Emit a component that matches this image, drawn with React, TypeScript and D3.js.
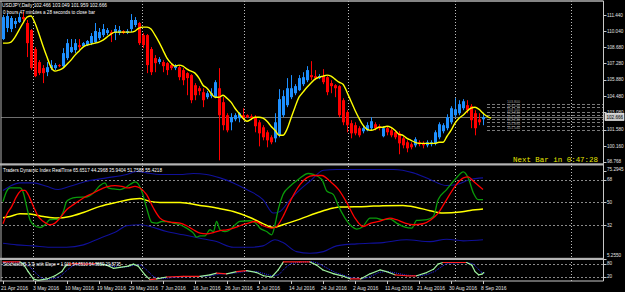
import React from 'react';
import * as d3 from 'd3';

const dateLabels = ["21 Apr 2016","3 May 2016","10 May 2016","19 May 2016","29 May 2016","7 Jun 2016","16 Jun 2016","26 Jun 2016","5 Jul 2016","14 Jul 2016","24 Jul 2016","2 Aug 2016","11 Aug 2016","21 Aug 2016","30 Aug 2016","8 Sep 2016"];

const openP = [109.37,110.32,110.23,110.66,110.83,111.26,110.75,110.14,108.51,107.39,106.87,106.52,106.87,106.87,107.13,107.04,107.73,108.25,108.42,108.85,108.77,108.85,109.02,109.11,109.45,109.71,109.89,109.97,109.89,109.89,110.06,109.89,110.23,110.58,110.75,109.71,109.71,108.51,107.73,107.39,107.39,107.30,107.13,106.87,106.95,106.70,106.44,106.27,105.40,105.14,104.80,104.37,104.46,104.37,105.14,103.94,102.82,102.21,102.47,102.56,102.82,102.82,102.73,102.65,102.21,101.78,101.35,100.92,100.83,101.09,102.82,103.68,104.37,104.71,104.97,105.49,105.83,106.27,106.18,106.01,106.18,106.09,105.58,105.40,105.32,104.11,103.08,102.13,101.96,101.70,101.44,101.52,101.70,102.04,101.87,101.01,101.70,101.52,101.35,101.26,100.83,100.49,100.32,100.23,100.49,100.40,100.23,100.32,100.40,100.92,101.44,101.70,102.21,102.82,102.99,103.42,103.68,103.59,102.99,102.47,102.466];
const highP = [111.44,111.61,111.35,111.18,111.61,111.70,111.01,110.23,108.68,107.56,107.13,107.39,107.56,107.30,107.21,108.59,109.37,109.37,109.37,109.37,109.11,109.28,109.89,110.75,110.32,110.66,110.32,110.14,110.58,110.49,110.14,110.23,111.52,111.26,110.83,109.89,109.80,108.68,107.99,107.82,107.56,107.39,107.30,107.21,107.13,106.87,106.52,106.35,105.58,105.32,105.14,104.89,105.14,105.83,106.87,104.37,102.99,102.99,102.99,103.08,103.42,102.90,102.90,102.82,102.39,101.96,101.52,101.09,102.99,105.06,104.97,106.01,106.27,105.49,106.27,106.52,107.04,107.47,106.70,106.35,106.78,106.18,105.83,105.49,105.40,104.28,103.25,102.39,102.21,101.87,101.96,102.21,102.65,102.21,102.04,101.87,101.87,101.70,101.52,101.44,101.01,100.66,100.49,100.92,100.66,100.57,100.66,100.66,101.52,102.21,102.13,102.90,103.59,104.28,104.11,104.20,104.11,103.77,103.25,102.99,103.049];
const lowP = [109.28,109.97,109.97,110.32,110.75,110.92,107.82,106.70,106.09,106.27,105.58,106.18,106.70,106.70,106.95,106.95,107.56,108.16,108.16,108.42,108.68,108.77,108.85,109.02,109.28,109.54,109.71,109.11,109.28,109.71,109.80,109.80,109.97,110.40,108.85,108.59,106.44,106.27,106.52,107.21,106.52,106.27,106.70,106.70,105.83,105.40,104.54,103.85,104.11,104.54,103.51,104.20,104.28,104.28,98.94,101.52,101.35,101.52,102.30,102.21,102.39,102.56,102.39,101.35,100.14,100.66,100.06,100.32,100.49,100.92,102.65,103.51,104.20,104.54,104.89,105.32,105.66,105.83,105.83,105.92,105.49,104.54,104.71,104.37,102.65,101.96,101.35,100.83,101.09,100.92,101.26,101.44,101.52,101.52,101.52,100.92,101.09,100.92,100.75,99.46,99.97,99.63,99.88,100.06,100.14,99.97,100.06,100.14,100.23,100.75,101.26,101.52,102.04,102.65,102.82,103.25,102.99,101.70,101.09,101.96,101.959];
const closeP = [111.26,111.35,111.18,110.92,111.26,111.09,109.02,106.87,106.18,106.44,106.44,106.95,107.13,107.13,107.04,108.16,109.02,108.68,109.02,108.68,109.02,109.20,109.63,110.06,109.97,110.23,110.14,109.80,110.23,110.14,109.89,110.06,111.01,111.01,109.02,108.85,107.13,106.52,107.30,107.64,107.04,106.70,106.87,107.04,106.09,105.83,106.01,104.11,104.54,104.89,104.11,104.71,104.71,105.66,102.82,101.96,101.52,102.65,102.82,102.99,102.56,102.65,102.56,101.87,101.26,100.92,100.66,100.49,102.21,104.20,104.46,105.14,105.14,105.32,106.01,106.09,106.70,106.09,106.01,106.18,105.66,104.80,105.32,105.14,102.82,102.21,101.96,101.26,101.26,101.09,101.70,101.96,102.30,101.70,101.70,101.70,101.35,101.09,100.92,100.40,100.23,99.97,100.06,100.75,100.32,100.23,100.49,100.49,101.35,102.04,101.96,102.65,103.42,103.33,103.77,104.02,103.25,102.39,101.70,102.21,102.666];

const maLine = [109.02,109.02,109.11,109.54,110.14,110.75,111.26,111.35,110.75,109.80,108.77,107.82,106.95,106.61,106.70,106.87,107.21,107.56,107.99,108.33,108.68,108.85,108.94,109.02,109.11,109.28,109.54,109.80,109.97,109.97,109.97,109.97,109.97,110.06,110.32,110.40,110.40,110.23,109.71,109.11,108.42,107.73,107.30,107.04,107.13,107.04,106.78,106.61,106.44,106.01,105.40,105.14,104.71,104.37,104.37,104.54,104.28,103.94,103.42,102.99,102.56,102.30,102.47,102.65,102.65,102.56,102.30,101.87,101.52,101.09,101.09,101.61,102.56,103.51,104.37,104.80,105.23,105.58,105.92,106.09,106.18,106.27,106.18,105.92,105.66,105.49,104.80,104.02,103.25,102.56,101.96,101.61,101.52,101.61,101.78,101.78,101.87,101.78,101.52,101.18,101.09,100.83,100.66,100.49,100.40,100.40,100.40,100.40,100.40,100.49,100.49,101.01,101.52,102.13,102.56,102.82,103.16,103.42,103.51,103.33,102.99,102.73,102.56];

const priceTicks = [111.44,110.04,108.68,107.28,105.88,104.48,103.08,101.58,100.16,98.768];
const priceTickLabels = ["111.440","110.040","108.680","107.280","105.880","104.480","103.080","101.580","100.160","98.768"];
const currentPrice = 102.666;
const levelLines = [103.80,103.50,103.10,102.84,102.52,102.23,101.89,101.54];
const monthSeparators = [7.5,34.7,60.3,86.3,113,142];

const tdiTicks = [75.2945,68,50,32,5.255];
const tdiTickLabels = ["75.2945","68","50","32","5.2550"];
const tdiLevels = [68,50,32];
const stochTicks = [80,20];

const tdiGreen = [[0,50.6],[0.9,58.8],[1.75,61.5],[4.25,61.5],[5.1,57.5],[5.9,46.8],[6.75,36.2],[7.6,32.2],[9.25,30],[10.5,32.2],[11.75,36.2],[13.8,36.7],[15.1,42.8],[15.9,50.8],[16.75,52.7],[18.4,54],[20.9,54.3],[22.6,57.5],[24.25,63.4],[25.5,65.5],[26.3,61.5],[27.6,60.7],[29.25,60.2],[30.5,61.5],[31.75,64.2],[33,66.3],[33.6,65.5],[34.7,58.8],[35.9,45.5],[37.2,34],[38.4,33.5],[39.7,34.8],[40.9,34.8],[42.6,33.5],[44.25,32.2],[45.9,29.5],[47.6,25.5],[48.4,22.3],[49.25,23.4],[50.5,23.4],[51.75,28.2],[52.6,26.8],[53.4,34.8],[54.25,28.2],[55.5,26.8],[56.75,28.2],[57.6,30.8],[59.25,34.8],[61.75,35.4],[63,34],[64.25,29.5],[65.9,26.8],[67.2,24.2],[68,32.2],[68.8,44.2],[70,56.2],[71.75,62.8],[73.8,68.2],[76.3,73],[77.6,72.2],[79.7,68.2],[81,58.8],[82.6,56.2],[83.9,46.8],[85.5,37.5],[87.2,30.8],[88.4,28.7],[90,30.8],[91.75,37.5],[93.3,37.5],[94.7,36.2],[96.75,36.7],[98.4,33.5],[100.5,30.3],[102.2,29.5],[103.4,35.6],[106,36.2],[107.6,38.8],[108.8,52.2],[110.9,60.2],[113,68.2],[115.1,74.3],[116.3,69.5],[117.6,57.5],[118.8,52.2],[120,52.2]];
const tdiRed = [[0,33],[0.9,40.2],[2.2,46.8],[3.4,54.8],[4.7,59.6],[5.5,59.6],[6.3,56.2],[7.6,46.8],[8.8,38.8],[10.1,34.8],[11.75,32.2],[13,33.5],[14.25,37.5],[15.9,44.2],[17.6,48.2],[20.1,53.5],[22.6,57.5],[24.25,60.2],[25.9,62.3],[28,63.4],[29.7,62.8],[31.3,61.5],[33,62.8],[34.25,61.5],[35.9,56.2],[37.6,45.5],[39.25,37.5],[40.9,34.8],[42.6,34],[44.25,33.5],[45.9,31.4],[47.6,28.2],[49.25,25.5],[50.9,25],[52.6,26],[54.25,27.6],[55.9,28.2],[57.6,29.5],[59.25,31.4],[60.9,33],[63,34.8],[65,31.4],[67.2,29.5],[68.4,30.8],[70,38.8],[72,52.2],[74.25,64.2],[75.9,69.5],[77.6,71.4],[79.7,71.4],[81.75,66.8],[83.9,60.2],[86,49.5],[88,37.5],[90,30.8],[92,33.5],[94,34.8],[96.75,37.5],[98.4,36.2],[100.5,33.5],[102.6,32.2],[105,33],[107,36.2],[108.8,41.5],[110.9,52.2],[113,62.8],[115.1,69.5],[116.3,70.3],[117.6,66.8],[120,60.2]];
const tdiYellow = [[0,37.8],[1.75,38.8],[4.25,41],[6.75,40.7],[10.1,38.8],[13.4,37.5],[16.75,38.8],[20.1,42],[24.25,46.8],[28.4,50],[32.6,52.7],[34.25,53],[36.75,50.8],[39.25,50],[44.25,50],[49.25,47.6],[53.4,45.5],[57.6,42.8],[61.75,38],[64.7,33.5],[67.6,30],[70,32.2],[74.25,36.7],[78.4,41.5],[82.6,45.5],[84.25,46.3],[90.9,46.8],[95,47.4],[100,47.6],[103.4,46],[106.75,43.4],[110,41.5],[114.25,42.3],[116.75,43.6],[120,44.7]];
const tdiUpper = [[0,59.4],[1.75,62.8],[4.25,65.5],[7.6,65.5],[10.9,62.8],[13.8,60.2],[16.75,62.8],[20.9,66.8],[25.9,69.5],[30.9,72.2],[33.4,74.6],[35.9,73.5],[39.25,72.2],[44.25,72.2],[47.6,73],[50.9,72.2],[54.25,69.5],[57.6,65.5],[60.9,60.2],[65,52.2],[67.6,41.5],[69.25,42.8],[71.75,52.2],[74.25,60.2],[76.75,66.8],[80.1,75.6],[83.4,76.2],[91,76.2],[97.6,76.2],[102.6,73.5],[106.75,68.2],[110.9,63.4],[113.4,64.2],[116.75,68.2],[120,69.5]];
const tdiLower = [[0,17.5],[3.4,16.2],[7.6,15.4],[11.75,14.3],[15.9,14.3],[20.1,16.2],[24.25,21.5],[28.4,26.8],[30.9,31.4],[34.25,32.2],[36.75,30.8],[40.9,26.8],[45.1,24.2],[49.25,21.5],[53.4,18.8],[57.6,14.3],[61.75,14.3],[65,15.4],[68,20.2],[70,18],[73.4,10.8],[76.75,9.5],[80.1,10.8],[83.4,15.4],[88.4,17],[95,18],[100.9,20.2],[106.75,18.8],[110.9,20.7],[115.1,19.4],[120,20.2]];

const stochMain = [[0,88.7],[4.25,88.7],[5,81.5],[6.3,43.7],[7.6,9.5],[8.8,3.2],[11,9.5],[13,24.3],[14.7,43.7],[15.5,66.2],[16.3,78.4],[18.4,81.5],[20.9,78.4],[23.4,81.5],[25.9,73.9],[27.6,59],[29.25,63.5],[31.3,69.4],[32.6,78.4],[33.8,69.4],[35.5,28.8],[36.75,6.3],[38.4,9.5],[40.9,18.5],[45.1,21.2],[49.25,21.2],[51.75,28.8],[53.4,36.5],[55.9,33.3],[58.4,43.7],[60.9,48.2],[63.4,39.2],[65.1,24.3],[67.2,18.5],[68.8,51.4],[70.1,88.7],[74.25,88.7],[76.75,88.7],[78.4,73.9],[80,51.4],[82.75,33.3],[85.25,21.2],[86.9,9.5],[89.4,9.5],[91.75,33.3],[94.25,51.4],[95.9,43.7],[98,28.8],[100.9,24.3],[103.4,24.3],[105.9,39.2],[107.6,54.5],[108.75,78.4],[110,86],[115.9,86],[117.2,73.9],[118,43.7],[118.9,28.8],[119.75,32],[120.2,39.2]];
const stochSignal = [[0,85],[3,88],[5,86],[6.5,70],[8,40],[9.5,15],[11,7],[13,12],[14.5,25],[16,50],[17.5,72],[19,80],[21,80],[23,80],[25,79],[27,70],[29,63],[31,66],[33,74],[34.5,74],[36,50],[37.5,22],[39,10],[41,13],[44,19],[49,21],[52,24],[54,32],[56,34],[58.5,38],[61,45],[63.5,44],[65.5,33],[67.5,23],[69,30],[70.5,60],[72,82],[75,88],[77,90],[78.5,85],[80,70],[81.5,55],[83,40],[85,28],[87,15],[90,10],[92,22],[94,40],[96,45],[98,38],[101,27],[104,24],[106,30],[108,45],[109.5,65],[111,82],[116,86],[117.5,80],[118.5,62],[119.5,42],[120.5,34]];

const FONT = "'Liberation Sans', Arial, sans-serif";

export default function App() {
  const W = 625, H = 292;
  const plotL = 1, plotR = 603.5;
  const x = d3.scaleLinear().domain([0, 120]).range([3, 483]);
  const yP = d3.scaleLinear().domain([98.768, 111.44]).range([162.3, 15]);
  const yT = d3.scaleLinear().domain([5.255, 75.2945]).range([258.6, 170.6]);
  const yS = d3.scaleLinear().domain([0, 100]).range([281, 259.5]);

  const maPath = d3.line<number>().x((_, i) => x(i)).y(d => yP(d)).curve(d3.curveMonotoneX)(maLine) || '';
  const tLine = d3.line<number[]>().x(d => x(d[0])).y(d => yT(d[1])).curve(d3.curveMonotoneX);
  const sLine = d3.line<number[]>().x(d => x(d[0])).y(d => yS(d[1]));

  const stochSegs = [] as { a: number[]; b: number[]; red: boolean }[];
  for (let k = 1; k < stochMain.length; k++) {
    const a = stochMain[k - 1], b = stochMain[k];
    const slope = Math.abs((b[1] - a[1]) / (b[0] - a[0]));
    stochSegs.push({ a, b, red: slope < 2.5 });
  }

  const bull = '#1e90ff', bear = '#ff0000';

  return (
    <div style={{ position: 'absolute', left: 0, top: 0 }}>
      <svg width={W} height={H} style={{ display: 'block', background: '#000' }} fontFamily={FONT}>
        <rect x={0} y={0} width={W} height={H} fill="#000" />
        <defs>
          <clipPath id="mainClip"><rect x={plotL} y={1} width={plotR - plotL} height={162.5} /></clipPath>
          <clipPath id="tdiClip"><rect x={plotL} y={165.5} width={plotR - plotL} height={92.5} /></clipPath>
          <clipPath id="stClip"><rect x={plotL} y={259.5} width={plotR - plotL} height={21.5} /></clipPath>
        </defs>

        {monthSeparators.map((m, k) => (
          <line key={'ms' + k} x1={Math.round(x(m)) + 0.5} x2={Math.round(x(m)) + 0.5} y1={1} y2={281} stroke="#bdbdbd" strokeDasharray="1,2" />
        ))}

        {tdiLevels.map((v, k) => (
          <line key={'tl' + k} x1={plotL} x2={plotR} y1={Math.round(yT(v)) + 0.5} y2={Math.round(yT(v)) + 0.5} stroke="#8a8a8a" strokeDasharray="2,2" />
        ))}
        {stochTicks.map((v, k) => (
          <line key={'sl' + k} x1={plotL} x2={plotR} y1={Math.round(yS(v)) + 0.5} y2={Math.round(yS(v)) + 0.5} stroke="#8a8a8a" strokeDasharray="2,2" />
        ))}

        <g clipPath="url(#mainClip)">
          <line x1={plotL} x2={plotR} y1={Math.round(yP(currentPrice)) + 0.5} y2={Math.round(yP(currentPrice)) + 0.5} stroke="#6e6e6e" />
          {levelLines.map((v, k) => (
            <g key={'lv' + k}>
              <line x1={x(121)} x2={plotR} y1={Math.round(yP(v)) + 0.5} y2={Math.round(yP(v)) + 0.5} stroke="#9a9a9a" strokeDasharray="3,2" strokeWidth={0.8} />
              <text x={x(126)} y={yP(v) - 0.6} fontSize={3.6} fill="#9a9a9a">{v.toFixed(3)}</text>
            </g>
          ))}
          {openP.map((o, i) => {
            const c = closeP[i];
            const col = c >= o ? bull : bear;
            const cx = x(i);
            const top = yP(Math.max(o, c));
            const bot = yP(Math.min(o, c));
            return (
              <g key={'c' + i}>
                <line x1={cx + 0.5} x2={cx + 0.5} y1={yP(highP[i])} y2={yP(lowP[i])} stroke={col} strokeWidth={1} />
                <rect x={cx - 1} y={top} width={3} height={Math.max(1, bot - top)} fill={col} />
              </g>
            );
          })}
          <path d={maPath} fill="none" stroke="#ffff00" strokeWidth={1.4} />
        </g>

        <g clipPath="url(#tdiClip)" fill="none">
          <path d={tLine(tdiUpper) || ''} stroke="#10109a" strokeWidth={1.1} />
          <path d={tLine(tdiLower) || ''} stroke="#10109a" strokeWidth={1.1} />
          <path d={tLine(tdiYellow) || ''} stroke="#ffff00" strokeWidth={1.5} />
          <path d={tLine(tdiGreen) || ''} stroke="#0a9a0a" strokeWidth={1.3} />
          <path d={tLine(tdiRed) || ''} stroke="#ff0000" strokeWidth={1.3} />
        </g>

        <g clipPath="url(#stClip)" fill="none">
          <path d={sLine(stochSignal) || ''} stroke="#2a2aff" strokeWidth={1} strokeDasharray="1,1" />
          {stochSegs.map((s, k) => (
            <line key={'ss' + k} x1={x(s.a[0])} y1={yS(s.a[1])} x2={x(s.b[0])} y2={yS(s.b[1])} stroke={s.red ? '#ff2020' : '#9ef09e'} strokeWidth={1.2} strokeLinecap="round" />
          ))}
        </g>

        <line x1={0} x2={plotR} y1={1} y2={1} stroke="#b0b0b0" strokeWidth={1.5} />
        <line x1={1} x2={1} y1={1} y2={281} stroke="#b0b0b0" strokeWidth={1} />
        <line x1={plotR} x2={plotR} y1={1} y2={281} stroke="#c8c8c8" strokeWidth={1} />
        <rect x={0} y={163.3} width={plotR} height={2.2} fill="#b4b4b4" />
        <rect x={0} y={257.8} width={plotR} height={2.2} fill="#b4b4b4" />
        <line x1={0} x2={plotR} y1={281} y2={281} stroke="#c8c8c8" strokeWidth={1} />

        <text x={2} y={6.8} fontSize={5.4} fill="#ffffff" textLength={105} lengthAdjust="spacingAndGlyphs">USDJPY,Daily  102.466 103.049 101.959 102.666</text>
        <text x={3} y={14} fontSize={5.4} fill="#ffffff" textLength={92} lengthAdjust="spacingAndGlyphs">0 hours 47 minutes a 28 seconds to close bar</text>
        <text x={3} y={171.5} fontSize={5.2} fill="#ffffff" textLength={159} lengthAdjust="spacingAndGlyphs">Traders Dynamic Index RealTime 65.6517 44.2968 35.9404 51.7588 55.4218</text>
        <text x={3} y={266} fontSize={5.2} fill="#ffffff" textLength={118} lengthAdjust="spacingAndGlyphs">Stochastic(5,3,3) with Slope = 1.011 54.8510 54.9559 29.8735</text>
        <text x={513} y={161.5} fontSize={7.8} fill="#e6e600" fontFamily="'Liberation Mono', 'DejaVu Sans Mono', monospace" textLength={85} lengthAdjust="spacingAndGlyphs">Next Bar in 0:47:28</text>

        {priceTicks.map((v, k) => (
          <g key={'pt' + k}>
            <line x1={plotR} x2={plotR + 3} y1={Math.round(yP(v)) + 0.5} y2={Math.round(yP(v)) + 0.5} stroke="#c8c8c8" />
            <text x={607} y={k === priceTicks.length - 1 ? yP(v) - 1 : yP(v)} dy="0.35em" fontSize={4.6} fill="#e0e0e0">{priceTickLabels[k]}</text>
          </g>
        ))}
        <rect x={605} y={yP(currentPrice) - 3.5} width={19} height={7} fill="#c8c8c8" stroke="#ffffff" strokeWidth={0.6} />
        <text x={606.5} y={yP(currentPrice)} dy="0.35em" fontSize={4.6} fill="#000">102.666</text>
        {tdiTicks.map((v, k) => (
          <g key={'tt' + k}>
            <line x1={plotR} x2={plotR + 3} y1={Math.round(yT(v)) + 0.5} y2={Math.round(yT(v)) + 0.5} stroke="#c8c8c8" />
            <text x={607} y={k === 0 ? yT(v) - 1.6 : k === 4 ? yT(v) - 3 : yT(v)} dy="0.35em" fontSize={4.6} fill="#e0e0e0">{tdiTickLabels[k]}</text>
          </g>
        ))}
        {stochTicks.map((v, k) => (
          <g key={'st' + k}>
            <line x1={plotR} x2={plotR + 3} y1={Math.round(yS(v)) + 0.5} y2={Math.round(yS(v)) + 0.5} stroke="#c8c8c8" />
            <text x={607} y={yS(v)} dy="0.35em" fontSize={4.6} fill="#e0e0e0">{String(v)}</text>
          </g>
        ))}

        {dateLabels.map((d, k) => (
          <g key={'dl' + k}>
            <line x1={x(k * 8) + 0.5} x2={x(k * 8) + 0.5} y1={281} y2={284} stroke="#c8c8c8" />
            <text x={x(k * 8) - 2} y={289.5} fontSize={5} fill="#e0e0e0">{d}</text>
          </g>
        ))}
      </svg>
    </div>
  );
}
